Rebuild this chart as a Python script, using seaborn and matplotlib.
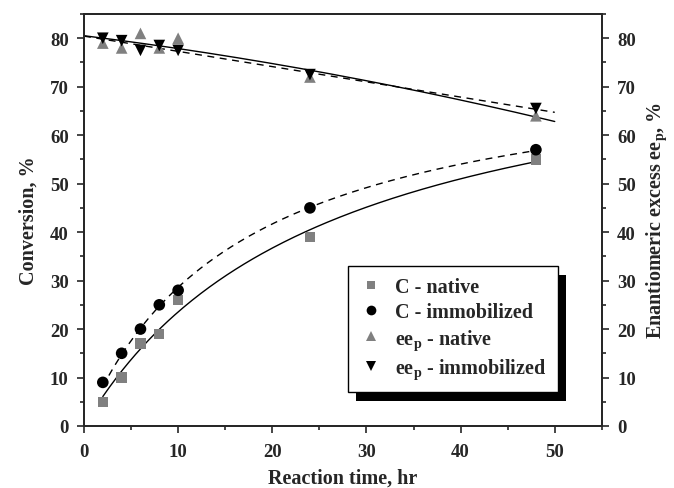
import numpy as np
import pandas as pd
import matplotlib
matplotlib.use("Agg")
import matplotlib.pyplot as plt
import seaborn as sns
from matplotlib.patches import Rectangle
from matplotlib.ticker import MultipleLocator

# ---- data ----
time = [2, 4, 6, 8, 10, 24, 48]
c_native = [5, 10, 17, 19, 26, 39, 55]
c_immob = [9, 15, 20, 25, 28, 45, 57]
ee_native = [79, 78, 81, 78, 80, 72, 64]
ee_immob = [80, 79.5, 77.5, 78.5, 77.5, 72.5, 65.5]
labels = ["C - native", "C - immobilized", "ee$_\\mathregular{p}$ - native", "ee$_\\mathregular{p}$ - immobilized"]

sns.set_theme(style="ticks")
plt.rcParams["font.family"] = ["Liberation Serif", "DejaVu Serif"]
plt.rcParams["font.weight"] = "bold"
plt.rcParams["mathtext.fontset"] = "custom"
plt.rcParams["mathtext.rm"] = "Liberation Serif:bold"

fig = plt.figure(figsize=(6.74, 4.89), dpi=100, facecolor="white")
ax = fig.add_axes([0.1246, 0.1268, 0.7683, 0.8425])

t = np.array(time, dtype=float)

def hyper_fit(y):
    # least squares fit of y = a*t/(b+t)
    y = np.asarray(y, float)
    best = None
    for b in np.linspace(1, 200, 4000):
        f = t / (b + t)
        a = (f @ y) / (f @ f)
        err = np.sum((a * f - y) ** 2)
        if best is None or err < best[0]:
            best = (err, a, b)
    return best[1], best[2]

tc = np.linspace(2, 48, 200)
a1, b1 = hyper_fit(c_native)
a2, b2 = hyper_fit(c_immob)
te = np.linspace(0, 50, 200)
p3 = np.polyfit(t, ee_native, 2)
p4 = np.polyfit(t, ee_immob, 1)

fits = pd.DataFrame({
    "t": np.concatenate([tc, tc, te, te]),
    "y": np.concatenate([a1 * tc / (b1 + tc), a2 * tc / (b2 + tc), np.polyval(p3, te), np.polyval(p4, te)]),
    "s": ["cn"] * 200 + ["ci"] * 200 + ["en"] * 200 + ["ei"] * 200,
})
for key, ls in [("cn", "-"), ("ci", (0, (5, 4))), ("en", "-"), ("ei", (0, (5, 4)))]:
    sns.lineplot(data=fits[fits.s == key], x="t", y="y", ax=ax, color="black",
                 linewidth=1.0, linestyle=ls, legend=False)

gray = "#808080"
series = [(c_native, "s", gray, 55), (c_immob, "o", "black", 70),
          (ee_native, "^", gray, 70), (ee_immob, "v", "black", 70)]
handles = []
for (vals, m, col, sz), lab in zip(series, labels):
    sns.scatterplot(x=time, y=vals, ax=ax, marker=m, color=col, s=sz,
                    edgecolor="none", zorder=3, legend=False)
    handles.append(plt.Line2D([], [], marker=m, color=col, linestyle="none",
                              markersize=7 if m != "s" else 6, markeredgewidth=0, label=lab))

tick_size = 13.5
label_size = 14.5

ax.set_xlim(0, 55)
ax.set_ylim(0, 85)
ax.xaxis.set_major_locator(MultipleLocator(10))
ax.xaxis.set_minor_locator(MultipleLocator(5))
ax.yaxis.set_major_locator(MultipleLocator(10))
ax.yaxis.set_minor_locator(MultipleLocator(5))
ax.tick_params(which="both", direction="out", width=1.2, labelsize=tick_size)
ax.tick_params(axis="y", pad=6)
ax.tick_params(axis="x", pad=7)
ax.tick_params(which="major", length=5)
ax.tick_params(which="minor", length=3)
for sp in ax.spines.values():
    sp.set_linewidth(1.3)
    sp.set_visible(True)
ax.set_xlabel("Reaction time, hr", fontsize=label_size, fontweight="bold", labelpad=6)
ax.set_ylabel("Conversion, %", fontsize=label_size, fontweight="bold", labelpad=8)
for lbl in ax.get_xticklabels() + ax.get_yticklabels():
    lbl.set_fontweight("bold")

ax2 = ax.twinx()
ax2.set_ylim(0, 85)
ax2.yaxis.set_major_locator(MultipleLocator(10))
ax2.yaxis.set_minor_locator(MultipleLocator(5))
ax2.tick_params(which="both", direction="out", width=1.2, labelsize=tick_size, pad=6)
ax2.tick_params(which="major", length=5)
ax2.tick_params(which="minor", length=3)
for sp in ax2.spines.values():
    sp.set_linewidth(1.3)
ax2.set_ylabel("Enantiomeric excess ee$_\\mathregular{p}$, %", fontsize=label_size, fontweight="bold", labelpad=6)
for lbl in ax2.get_yticklabels():
    lbl.set_fontweight("bold")

leg = ax2.legend(handles=handles, loc="lower left", bbox_to_anchor=(0.51, 0.082),
                 frameon=True, fancybox=False, edgecolor="black", framealpha=1,
                 prop={"family": "Liberation Serif", "weight": "bold", "size": 14.5},
                 handletextpad=0.6, borderpad=0.55, labelspacing=0.24, handlelength=1.2,
                 borderaxespad=0)
leg.get_frame().set_linewidth(1.0)
leg.set_zorder(10)

fig.canvas.draw()
bb = leg.get_window_extent().transformed(ax2.transAxes.inverted())
dx = 8 / (ax.bbox.width)
dy = 9 / (ax.bbox.height)
shadow = Rectangle((bb.x0 + dx, bb.y0 - dy), bb.width, bb.height, transform=ax2.transAxes,
                   facecolor="black", edgecolor="none", zorder=9, clip_on=False)
ax2.add_patch(shadow)

fig.savefig("out.png", dpi=100, facecolor="white")
